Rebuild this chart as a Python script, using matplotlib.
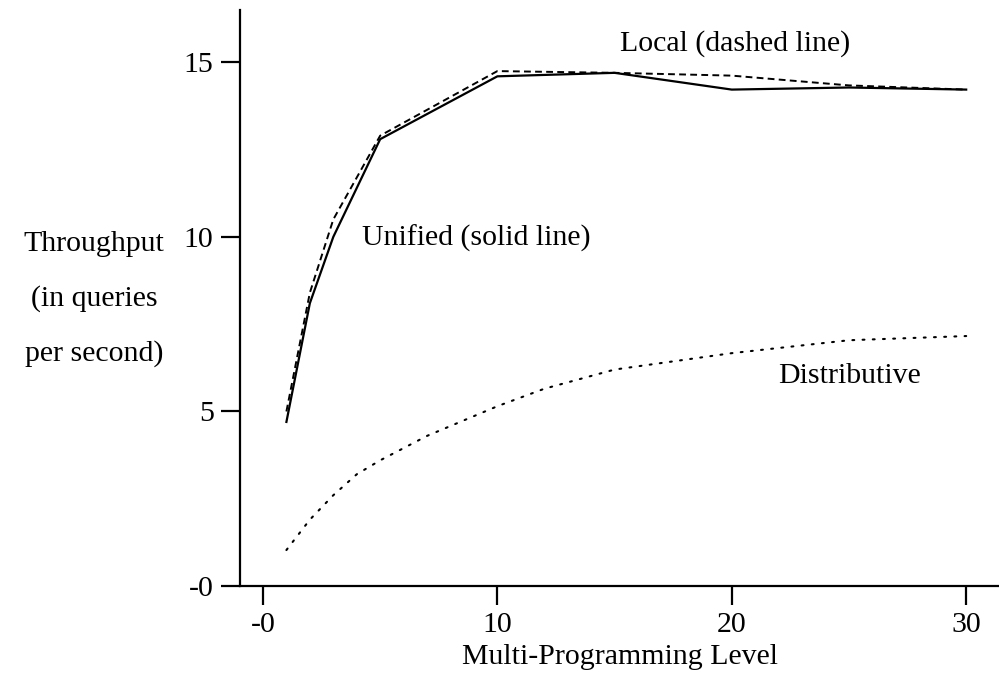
import matplotlib
matplotlib.use("Agg")
import matplotlib.pyplot as plt

# Data
unified_x = [1, 2, 3, 5, 10, 15, 20, 25, 30]
unified_y = [4.7, 8.1, 10.0, 12.8, 14.6, 14.7, 14.22, 14.28, 14.22]

local_x = [1, 2, 3, 5, 10, 15, 20, 25, 30]
local_y = [5.0, 8.4, 10.5, 12.9, 14.75, 14.7, 14.62, 14.34, 14.22]

distrib_x = [1, 2, 3, 4, 5, 7, 10, 12, 15, 20, 25, 30]
distrib_y = [1.03, 1.9, 2.6, 3.2, 3.6, 4.3, 5.15, 5.65, 6.2, 6.67, 7.04, 7.16]

xticks = [0, 10, 20, 30]
xtick_labels = ["-0", "10", "20", "30"]
yticks = [0, 5, 10, 15]
ytick_labels = ["-0", "5", "10", "15"]

plt.rcParams['font.family'] = ['Liberation Serif', 'DejaVu Serif']
FS = 21.5

W, H = 999, 679
fig = plt.figure(figsize=(W / 100, H / 100), dpi=100)
left_px, right_px, bottom_px, top_px = 240, 999, 586, 10
ax = fig.add_axes([left_px / W, (H - bottom_px) / H,
                   (right_px - left_px) / W, (bottom_px - top_px) / H])

ax.plot(unified_x, unified_y, color='black', lw=1.6, solid_joinstyle='round')
ax.plot(local_x, local_y, color='black', lw=1.4, linestyle=(0, (3.5, 2.2)))
ax.plot(distrib_x, distrib_y, color='black', lw=1.5, linestyle=(0, (0.9, 4.0)),
        dash_capstyle='round')

ax.set_xlim(-0.98, 31.4)
ax.set_ylim(0, 16.5)

for s in ['top', 'right']:
    ax.spines[s].set_visible(False)
for s in ['left', 'bottom']:
    ax.spines[s].set_linewidth(1.6)

ax.set_xticks(xticks)
ax.set_xticklabels(xtick_labels)
ax.set_yticks(yticks)
ax.set_yticklabels(ytick_labels)
ax.tick_params(axis='both', direction='out', length=14, width=1.6,
               labelsize=FS, pad=5)

ax.set_xlabel("Multi-Programming Level", fontsize=FS, labelpad=4)


def put(xpx, ypx, s, ha='left'):
    fig.text(xpx / W, 1 - ypx / H, s, ha=ha, va='center', fontsize=FS)


put(94, 244, "Throughput", ha='center')
put(94, 299, "(in queries", ha='center')
put(94, 354, "per second)", ha='center')
put(362, 238, "Unified (solid line)")
put(620, 44, "Local (dashed line)")
put(778, 376, "Distributive")

fig.savefig("out.png", dpi=100)
